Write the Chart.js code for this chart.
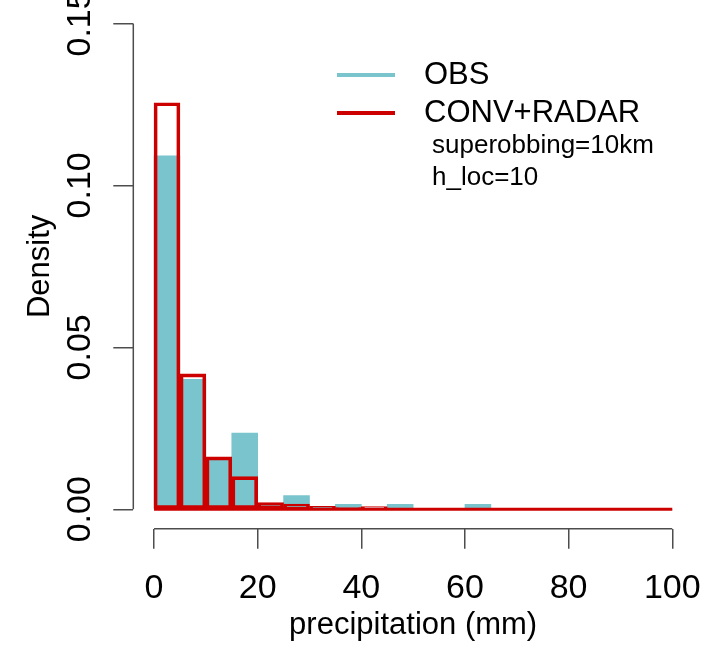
<!DOCTYPE html>
<html>
<head>
<meta charset="utf-8">
<script src="https://cdn.jsdelivr.net/npm/chart.js@4/dist/chart.umd.min.js"></script>
<style>
  html, body { margin: 0; padding: 0; background: #ffffff; }
  #wrap { width: 705px; height: 645px; }
</style>
</head>
<body>
<div id="wrap"><canvas id="hist" width="705" height="645"></canvas></div>
<script>
// Histogram bins: lower edges (mm) and common bin width
const binLower = [0, 5, 10, 15, 20, 25, 30, 35, 40, 45, 50, 55, 60, 65, 70, 75, 80, 85, 90, 95];
const binWidth = 5;

// Density per bin
const obsDensity = [0.1091, 0.0401, 0.0154, 0.0235, 0.0014, 0.0042, 0.0008, 0.0015, 0.0004, 0.0015,
                    0, 0, 0.0015, 0, 0, 0, 0, 0, 0, 0];
const convRadarDensity = [0.1255, 0.0418, 0.0162, 0.0101, 0.0021, 0.0016, 0.0009, 0.0005, 0.0008, 0.0002,
                          0, 0, 0, 0, 0, 0, 0, 0, 0, 0];

// Axis ticks
const xTicks = [0, 20, 40, 60, 80, 100];
const yTicks = [0, 0.05, 0.10, 0.15];

// Legend entries and annotation lines
const seriesNames = ['OBS', 'CONV+RADAR'];
const seriesColors = ['#7AC5CD', '#CD0000'];
const noteLines = ['superobbing=10km', 'h_loc=10'];

const FONT = '"Liberation Sans", Arial, Helvetica, sans-serif';
const AXIS_GREY = '#4d4d4d';

const toPoints = vals => vals.map((v, i) => ({ x: binLower[i] + binWidth / 2, y: v }));

// R-style axis lines spanning only from the first to the last tick
const rAxisLines = {
  id: 'rAxisLines',
  afterDraw(chart) {
    const { ctx, chartArea, scales: { x, y } } = chart;
    ctx.save();
    ctx.strokeStyle = AXIS_GREY;
    ctx.lineWidth = 1.5;
    ctx.beginPath();
    ctx.moveTo(x.getPixelForValue(xTicks[0]), chartArea.bottom);
    ctx.lineTo(x.getPixelForValue(xTicks[xTicks.length - 1]), chartArea.bottom);
    ctx.moveTo(chartArea.left, y.getPixelForValue(yTicks[0]));
    ctx.lineTo(chartArea.left, y.getPixelForValue(yTicks[yTicks.length - 1]));
    ctx.stroke();
    ctx.restore();
  }
};

// Baseline of the outlined histogram (empty bins collapse onto it)
const histBaseline = {
  id: 'histBaseline',
  afterDatasetsDraw(chart) {
    const { ctx, scales: { x, y } } = chart;
    const y0 = y.getPixelForValue(0);
    ctx.save();
    ctx.strokeStyle = seriesColors[1];
    ctx.lineWidth = 3;
    ctx.beginPath();
    ctx.moveTo(x.getPixelForValue(binLower[0]), y0);
    ctx.lineTo(x.getPixelForValue(binLower[binLower.length - 1] + binWidth), y0);
    ctx.stroke();
    ctx.restore();
  }
};

// Line-style legend with extra annotation text underneath
const lineLegend = {
  id: 'lineLegend',
  afterDraw(chart) {
    const { ctx } = chart;
    ctx.save();
    ctx.textBaseline = 'middle';
    ctx.textAlign = 'left';
    const rows = [75, 113];
    seriesNames.forEach((name, i) => {
      ctx.strokeStyle = seriesColors[i];
      ctx.lineWidth = 4;
      ctx.beginPath();
      ctx.moveTo(337, rows[i]);
      ctx.lineTo(395, rows[i]);
      ctx.stroke();
      ctx.fillStyle = '#000';
      ctx.font = '31px ' + FONT;
      ctx.fillText(name, 424, rows[i]);
    });
    ctx.font = '26px ' + FONT;
    const noteRows = [146, 178];
    noteLines.forEach((t, i) => ctx.fillText(t, 432, noteRows[i]));
    ctx.restore();
  }
};

new Chart(document.getElementById('hist'), {
  type: 'bar',
  data: {
    datasets: [
      {
        label: seriesNames[0],
        data: toPoints(obsDensity),
        backgroundColor: seriesColors[0],
        borderWidth: 0,
        order: 2
      },
      {
        label: seriesNames[1],
        data: toPoints(convRadarDensity),
        backgroundColor: 'rgba(0,0,0,0)',
        borderColor: seriesColors[1],
        borderWidth: 3,
        borderSkipped: false,
        order: 1
      }
    ]
  },
  options: {
    responsive: false,
    animation: false,
    devicePixelRatio: 1,
    grouped: false,
    barPercentage: 1,
    categoryPercentage: 1,
    layout: { padding: { top: 4, right: 12, left: 0, bottom: 0 } },
    plugins: { legend: { display: false }, tooltip: { enabled: false } },
    scales: {
      x: {
        type: 'linear',
        offset: false,
        min: -4,
        max: 104,
        afterBuildTicks: s => { s.ticks = xTicks.map(v => ({ value: v })); },
        afterFit: s => { s.height = 116.3; s.paddingLeft = 0; s.paddingRight = 0; },
        border: { display: false },
        grid: { offset: false, drawOnChartArea: false, drawTicks: true, tickLength: 20, color: AXIS_GREY, lineWidth: 1.5 },
        ticks: {
          autoSkip: false, maxRotation: 0, padding: 20, color: '#000',
          font: { family: FONT, size: 34 },
          callback: v => String(v)
        },
        title: {
          display: true, text: 'precipitation (mm)', color: '#000',
          font: { family: FONT, size: 31 }, padding: { top: 0, bottom: 1 }
        }
      },
      y: {
        type: 'linear',
        min: -0.006,
        max: 0.156,
        afterBuildTicks: s => { s.ticks = yTicks.map(v => ({ value: v })); },
        afterFit: s => { s.width = 133.3; s.paddingTop = 0; s.paddingBottom = 0; },
        border: { display: false },
        grid: { drawOnChartArea: false, drawTicks: true, tickLength: 20, color: AXIS_GREY, lineWidth: 1.5 },
        ticks: {
          autoSkip: false, minRotation: 90, maxRotation: 90, crossAlign: 'center', padding: 0,
          color: '#000', font: { family: FONT, size: 34 },
          callback: v => v.toFixed(2)
        },
        title: {
          display: true, text: 'Density', color: '#000',
          font: { family: FONT, size: 31 }, padding: { top: 22, bottom: 0 }
        }
      }
    }
  },
  plugins: [rAxisLines, histBaseline, lineLegend]
});
</script>
</body>
</html>
